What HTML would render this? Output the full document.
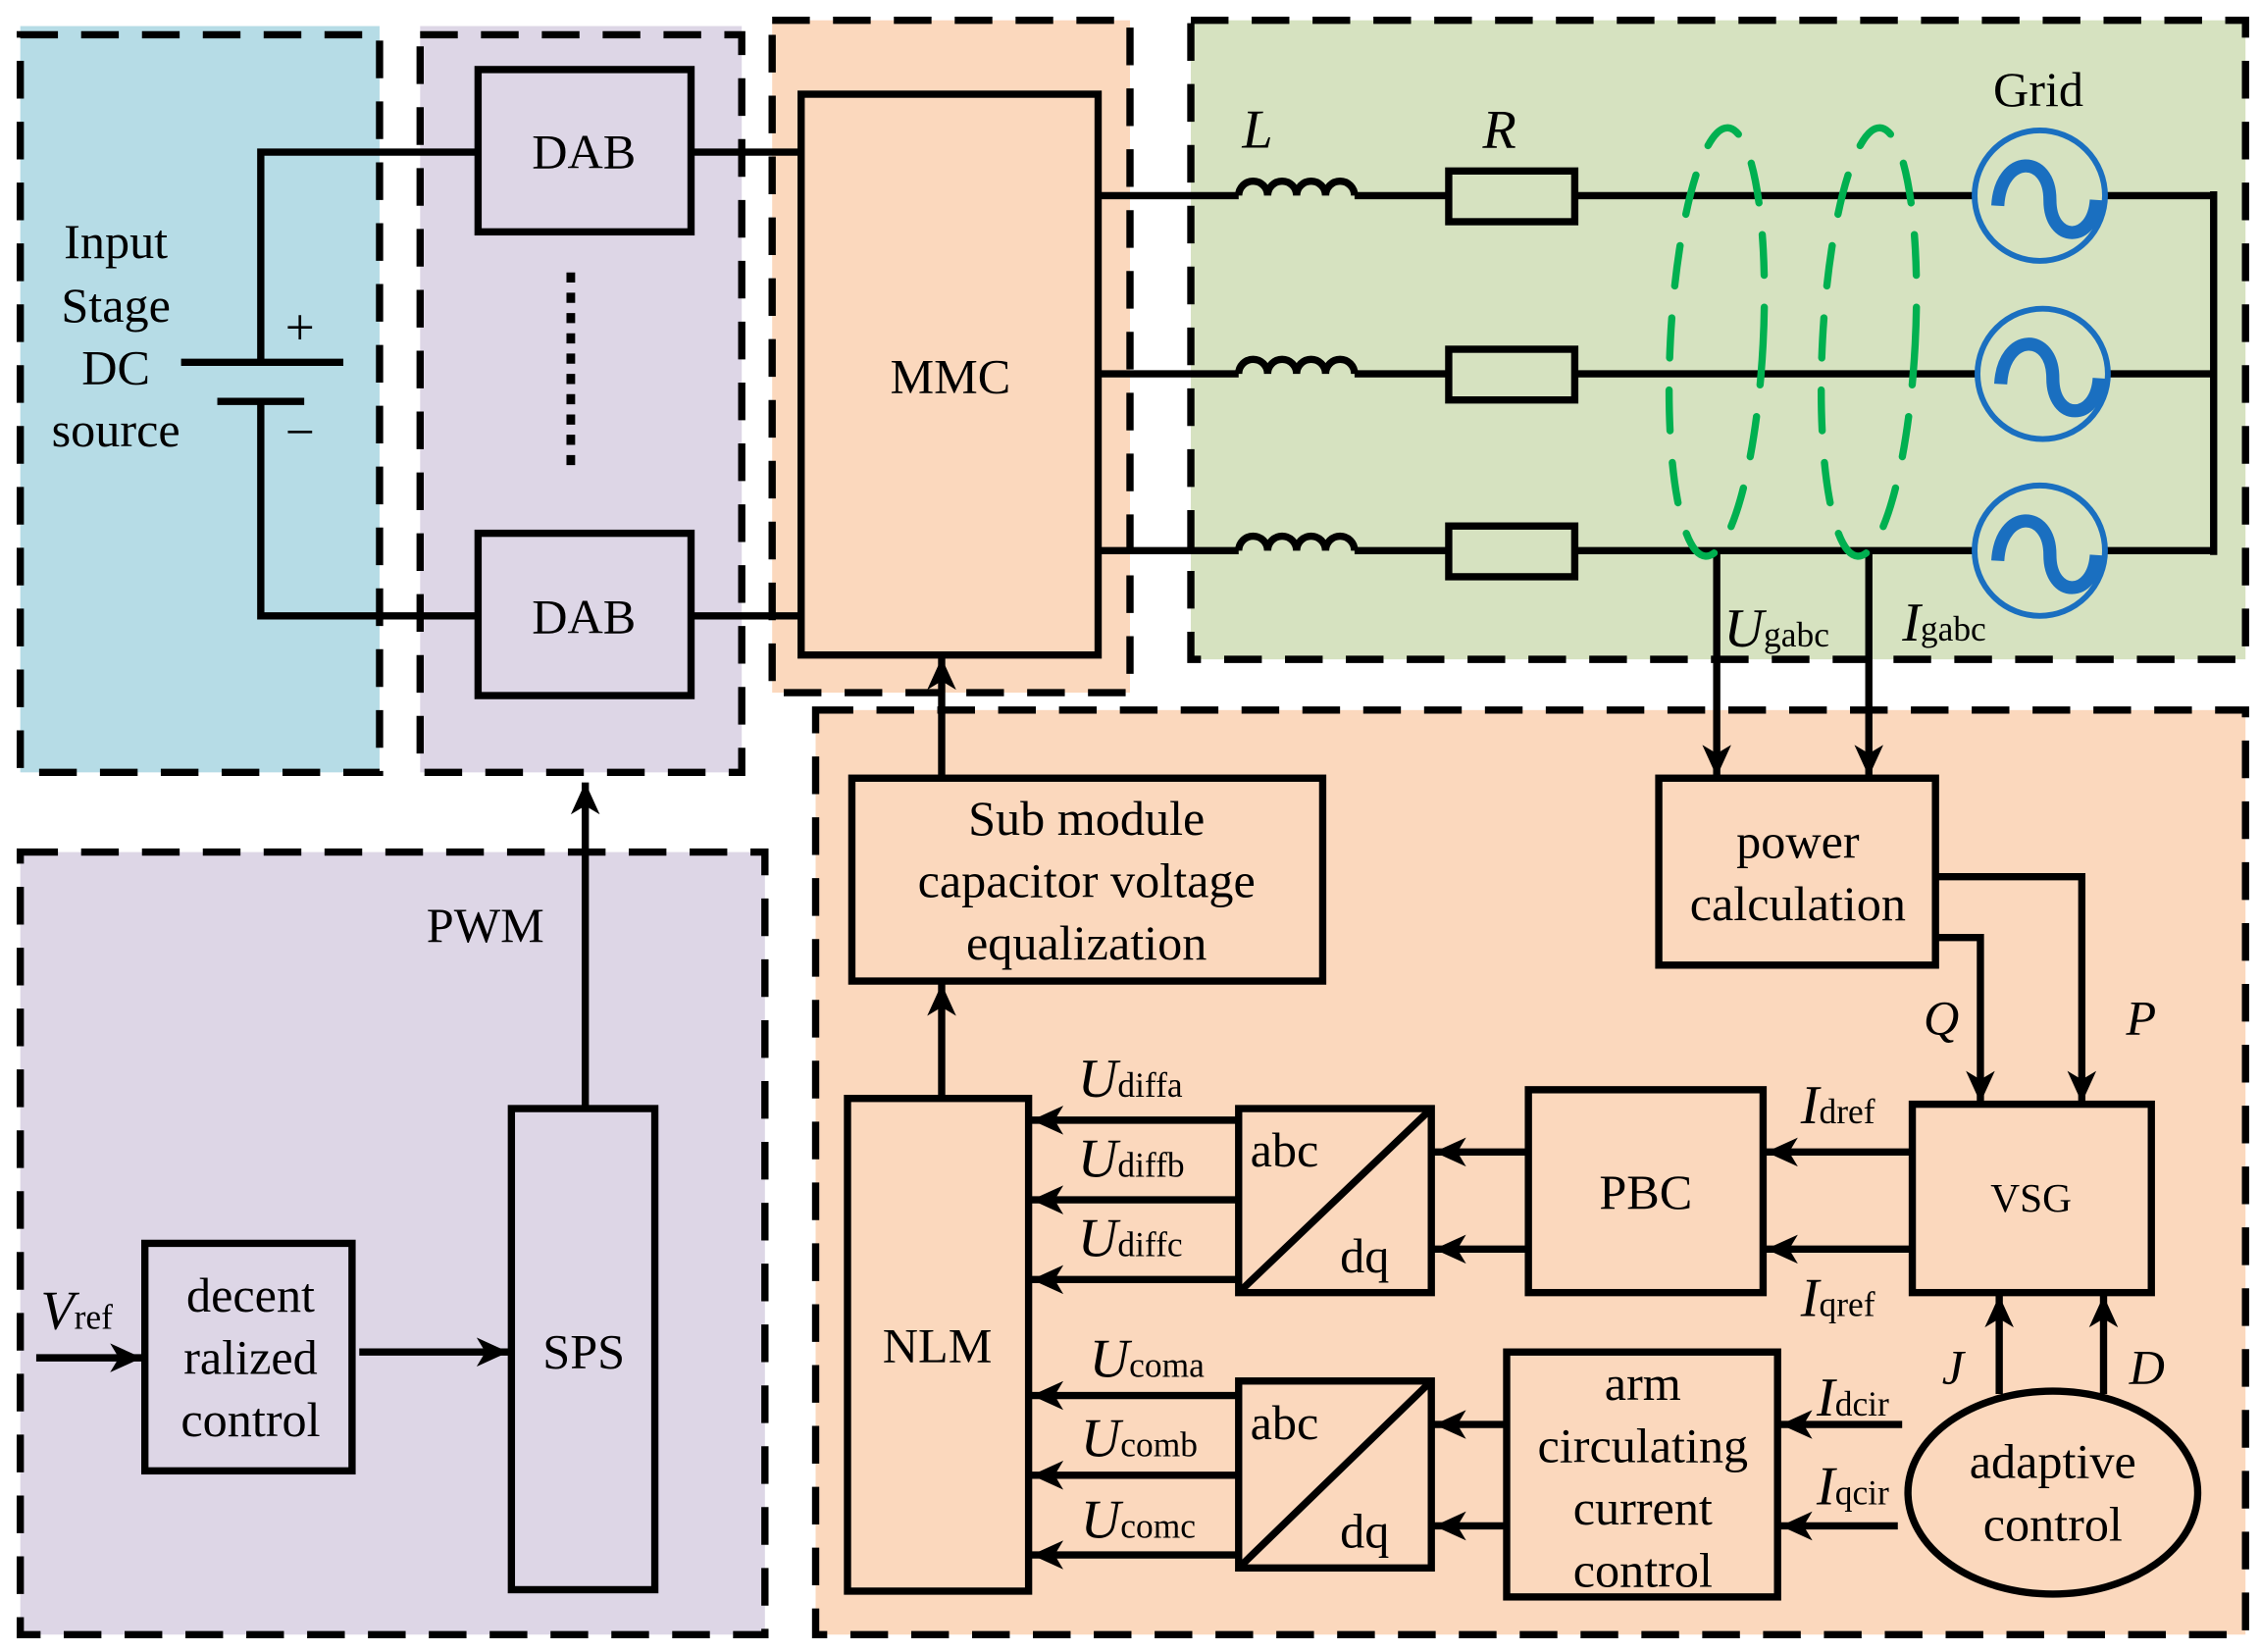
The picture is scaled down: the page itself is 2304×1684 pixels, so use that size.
<!DOCTYPE html>
<html><head><meta charset="utf-8"><style>
html,body{margin:0;padding:0;background:#fff;}
svg{display:block;}
text{font-family:"Liberation Serif","DejaVu Serif",serif;fill:#000;}
</style></head><body>
<svg width="2304" height="1684" viewBox="0 0 1560 1140" preserveAspectRatio="none" xmlns="http://www.w3.org/2000/svg" font-family="Liberation Serif, serif">
<defs>
<marker id="a" markerWidth="24" markerHeight="20" refX="22" refY="10" orient="auto" markerUnits="userSpaceOnUse">
<path d="M0,0 L22,10 L0,20 L6,10 Z" fill="#000"/>
</marker>
</defs>
<rect x="14" y="18" width="248" height="515" fill="#b6dce6"/>
<rect x="290" y="18" width="222" height="515" fill="#ddd6e6"/>
<rect x="533" y="14" width="247" height="464" fill="#fbd8bd"/>
<rect x="822" y="14" width="728" height="441" fill="#d6e2c0"/>
<rect x="14" y="588" width="514" height="540" fill="#ddd6e6"/>
<rect x="563" y="490" width="987" height="638" fill="#fbd8bd"/>
<g fill="none" stroke="#000" stroke-width="5" stroke-dasharray="26,16" stroke-linecap="butt">
<rect x="14" y="24" width="248" height="509"/>
<rect x="290" y="24" width="222" height="509"/>
<rect x="533" y="14" width="247" height="464"/>
<rect x="822" y="14" width="728" height="441"/>
<rect x="14" y="588" width="514" height="540"/>
<rect x="563" y="490" width="987" height="638"/>
</g>
<g fill="none" stroke="#000" stroke-width="5">
<polyline points="330,105 180,105 180,250"/>
<polyline points="330,425 180,425 180,277"/>
<line x1="125" y1="250" x2="237" y2="250"/>
<line x1="150" y1="277" x2="210" y2="277"/>
<rect x="330" y="48" width="147" height="112"/>
<rect x="330" y="368" width="147" height="112"/>
<line x1="477" y1="105" x2="553" y2="105"/>
<line x1="477" y1="425" x2="553" y2="425"/>
<line x1="394" y1="188" x2="394" y2="322" stroke-dasharray="7,7" stroke-width="6"/>
<rect x="553" y="65" width="205" height="387"/>
<line x1="758" y1="135" x2="855" y2="135"/><line x1="935" y1="135" x2="1000" y2="135"/><line x1="1087" y1="135" x2="1363" y2="135"/><line x1="1453" y1="135" x2="1528" y2="135"/>
<line x1="758" y1="258" x2="855" y2="258"/><line x1="935" y1="258" x2="1000" y2="258"/><line x1="1087" y1="258" x2="1365" y2="258"/><line x1="1455" y1="258" x2="1528" y2="258"/>
<line x1="758" y1="380" x2="855" y2="380"/><line x1="935" y1="380" x2="1000" y2="380"/><line x1="1087" y1="380" x2="1363" y2="380"/><line x1="1453" y1="380" x2="1528" y2="380"/>
<line x1="1528" y1="132" x2="1528" y2="383"/>
<path d="M855,135 a10,10 0 0 1 20,0 a10,10 0 0 1 20,0 a10,10 0 0 1 20,0 a10,10 0 0 1 20,0"/>
<path d="M855,258 a10,10 0 0 1 20,0 a10,10 0 0 1 20,0 a10,10 0 0 1 20,0 a10,10 0 0 1 20,0"/>
<path d="M855,380 a10,10 0 0 1 20,0 a10,10 0 0 1 20,0 a10,10 0 0 1 20,0 a10,10 0 0 1 20,0"/>
<rect x="1000" y="118" width="87" height="35"/>
<rect x="1000" y="241" width="87" height="35"/>
<rect x="1000" y="363" width="87" height="35"/>
<rect x="588" y="537" width="325" height="140"/>
<rect x="1145" y="537" width="191" height="129"/>
<rect x="1320" y="762" width="165" height="130"/>
<rect x="1055" y="752" width="162" height="140"/>
<rect x="855" y="765" width="133" height="127"/><line x1="855" y1="892" x2="988" y2="765"/>
<rect x="855" y="953" width="133" height="129"/><line x1="855" y1="1082" x2="988" y2="953"/>
<rect x="1040" y="933" width="187" height="169"/>
<rect x="585" y="758" width="125" height="340"/>
<ellipse cx="1417" cy="1030" rx="100" ry="70"/>
<rect x="353" y="765" width="99" height="332"/>
<rect x="100" y="858" width="143" height="157"/>
<g marker-end="url(#a)">
<line x1="1185" y1="380" x2="1185" y2="536"/>
<line x1="1290" y1="380" x2="1290" y2="536"/>
<line x1="650" y1="537" x2="650" y2="454"/>
<polyline points="1336,605 1437,605 1437,761"/>
<polyline points="1336,647 1367,647 1367,761"/>
<line x1="1320" y1="795" x2="1219" y2="795"/>
<line x1="1320" y1="862" x2="1219" y2="862"/>
<line x1="1055" y1="795" x2="990" y2="795"/>
<line x1="1055" y1="862" x2="990" y2="862"/>
<line x1="855" y1="773" x2="712" y2="773"/>
<line x1="855" y1="828" x2="712" y2="828"/>
<line x1="855" y1="883" x2="712" y2="883"/>
<line x1="855" y1="963" x2="712" y2="963"/>
<line x1="855" y1="1018" x2="712" y2="1018"/>
<line x1="855" y1="1073" x2="712" y2="1073"/>
<line x1="1040" y1="983" x2="990" y2="983"/>
<line x1="1040" y1="1053" x2="990" y2="1053"/>
<line x1="1313" y1="983" x2="1229" y2="983"/>
<line x1="1310" y1="1053" x2="1229" y2="1053"/>
<line x1="1380" y1="962" x2="1380" y2="894"/>
<line x1="1452" y1="962" x2="1452" y2="894"/>
<line x1="650" y1="758" x2="650" y2="679"/>
<line x1="248" y1="933" x2="351" y2="933"/>
<line x1="25" y1="937" x2="98" y2="937"/>
<line x1="404" y1="765" x2="404" y2="540"/>
</g>
</g>
<g fill="none" stroke="#1a6fc0">
<circle cx="1408" cy="135" r="45" stroke-width="4"/>
<circle cx="1410" cy="258" r="45" stroke-width="4"/>
<circle cx="1408" cy="380" r="45" stroke-width="4"/>
<path d="M1379,142 c2,-36 36,-36 36,-4 c0,30 30,30 32,0" stroke-width="9"/>
<path d="M1381,265 c2,-36 36,-36 36,-4 c0,30 30,30 32,0" stroke-width="9"/>
<path d="M1379,387 c2,-36 36,-36 36,-4 c0,30 30,30 32,0" stroke-width="9"/>
</g>
<g fill="none" stroke="#00b050" stroke-width="5" stroke-dasharray="28,22" stroke-linecap="round">
<ellipse cx="1185" cy="236" rx="32" ry="148" transform="rotate(3 1185 236)"/>
<ellipse cx="1290" cy="236" rx="32" ry="148" transform="rotate(3 1290 236)"/>
</g>
<g font-size="34" text-anchor="middle" font-family="Liberation Serif, serif">
<text x="80" y="178">Input</text>
<text x="80" y="222">Stage</text>
<text x="80" y="265">DC</text>
<text x="80" y="308">source</text>
<text x="207" y="238" font-size="36">+</text>
<text x="207" y="310" font-size="36">−</text>
<text x="403" y="116">DAB</text>
<text x="403" y="437">DAB</text>
<text x="656" y="271">MMC</text>
<text x="1407" y="73">Grid</text>
<text x="868" y="102" font-style="italic" font-size="38">L</text>
<text x="1035" y="102" font-style="italic" font-size="38">R</text>
<text x="750" y="576">Sub module</text>
<text x="750" y="619">capacitor voltage</text>
<text x="750" y="662">equalization</text>
<text x="1241" y="592">power</text>
<text x="1241" y="635">calculation</text>
<text x="1402" y="836" font-size="28">VSG</text>
<text x="1136" y="834">PBC</text>
<text x="1134" y="966">arm</text>
<text x="1134" y="1009">circulating</text>
<text x="1134" y="1052">current</text>
<text x="1134" y="1095">control</text>
<text x="647" y="940">NLM</text>
<text x="1417" y="1020">adaptive</text>
<text x="1417" y="1063">control</text>
<text x="403" y="944">SPS</text>
<text x="173" y="905">decent</text>
<text x="173" y="948">ralized</text>
<text x="173" y="991">control</text>
<text x="335" y="650">PWM</text>
<text x="1340" y="714" font-style="italic">Q</text>
<text x="1478" y="714" font-style="italic">P</text>
<text x="1348" y="955" font-style="italic">J</text>
<text x="1482" y="955" font-style="italic">D</text>
</g>
<g font-size="34" font-family="Liberation Serif, serif">
<text x="863" y="805">abc</text>
<text x="925" y="878">dq</text>
<text x="863" y="993">abc</text>
<text x="925" y="1068">dq</text>
<text x="744" y="757" font-style="italic" font-size="38">U<tspan font-style="normal" font-size="24">diffa</tspan></text>
<text x="744" y="812" font-style="italic" font-size="38">U<tspan font-style="normal" font-size="24">diffb</tspan></text>
<text x="744" y="867" font-style="italic" font-size="38">U<tspan font-style="normal" font-size="24">diffc</tspan></text>
<text x="752" y="950" font-style="italic" font-size="38">U<tspan font-style="normal" font-size="24">coma</tspan></text>
<text x="746" y="1005" font-style="italic" font-size="38">U<tspan font-style="normal" font-size="24">comb</tspan></text>
<text x="746" y="1061" font-style="italic" font-size="38">U<tspan font-style="normal" font-size="24">comc</tspan></text>
<text x="1190" y="446" font-style="italic" font-size="38">U<tspan font-style="normal" font-size="24">gabc</tspan></text>
<text x="1313" y="442" font-style="italic" font-size="38">I<tspan font-style="normal" font-size="24">gabc</tspan></text>
<text x="1243" y="775" font-style="italic" font-size="38">I<tspan font-style="normal" font-size="24">dref</tspan></text>
<text x="1243" y="908" font-style="italic" font-size="38">I<tspan font-style="normal" font-size="24">qref</tspan></text>
<text x="1254" y="977" font-style="italic" font-size="38">I<tspan font-style="normal" font-size="24">dcir</tspan></text>
<text x="1254" y="1038" font-style="italic" font-size="38">I<tspan font-style="normal" font-size="24">qcir</tspan></text>
<text x="28" y="917" font-style="italic" font-size="38">V<tspan font-style="normal" font-size="24">ref</tspan></text>
</g>
</svg>
</body></html>
